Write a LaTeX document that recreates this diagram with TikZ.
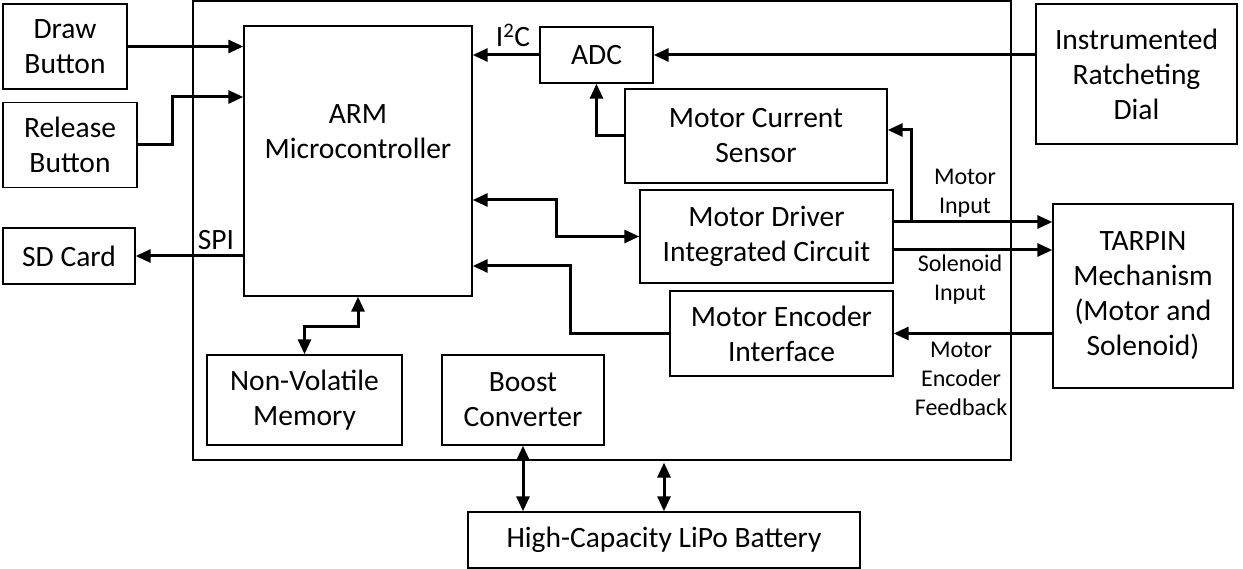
\documentclass[tikz,border=0pt]{standalone}
\usepackage{fontspec}
\setmainfont{Carlito}
\usetikzlibrary{arrows.meta}
\begin{document}
\begin{tikzpicture}[x=1pt,y=-1pt,
  box/.style={draw, line width=1.4pt, rectangle, inner sep=0pt, align=center,
     font=\fontsize{29.5}{35}\selectfont},
  txt/.style={inner sep=0pt, align=center, font=\fontsize{29.5}{35}\selectfont},
  small/.style={inner sep=0pt, align=center, font=\fontsize{24}{29}\selectfont},
  arr/.style={line width=3pt, -{Triangle[length=15pt,width=13pt]}},
  darr/.style={line width=3pt, {Triangle[length=15pt,width=13pt]}-{Triangle[length=15pt,width=13pt]}}]
\useasboundingbox (0,0) rectangle (1243,569);
% boxes
\node[box, line width=1.2pt, minimum width=818pt, minimum height=459pt] (board) at (602,230.5) {};
\node[box, minimum width=124pt, minimum height=85pt] (draw) at (65,46.5) {Draw\\Button};
\node[box, minimum width=134pt, minimum height=85pt] (rel) at (70,145) {Release\\Button};
\node[box, minimum width=132pt, minimum height=56pt] (sd) at (69,256) {SD Card};
\node[box, minimum width=228pt, minimum height=270pt] (arm) at (358,161) {};
\node[txt] (armtxt) at (358,132) {ARM\\Microcontroller};
\node[box, minimum width=113pt, minimum height=56pt] (adc) at (596.5,55) {ADC};
\node[box, minimum width=262pt, minimum height=94pt] (mcs) at (756,136) {Motor Current\\Sensor};
\node[box, minimum width=253pt, minimum height=93pt] (mdic) at (766.5,236.5) {Motor Driver\\Integrated Circuit};
\node[box, minimum width=223pt, minimum height=85pt] (mei) at (781.5,333.5) {Motor Encoder\\Interface};
\node[box, minimum width=180pt, minimum height=184pt] (tarpin) at (1143,296) {TARPIN\\Mechanism\\(Motor and\\Solenoid)};
\node[box, minimum width=201pt, minimum height=140pt] (dial) at (1136.5,74) {Instrumented\\Ratcheting\\Dial};
\node[box, minimum width=195pt, minimum height=90pt] (nvm) at (304.5,400) {Non-Volatile\\Memory};
\node[box, minimum width=162pt, minimum height=90pt] (boost) at (523,400) {Boost\\Converter};
\node[box, minimum width=392pt, minimum height=56pt] (batt) at (664,540) {High-Capacity LiPo Battery};
% labels
\node[txt] (spi) at (216,240) {SPI};
\node[txt] (i2c) at (513,35) {I\textsuperscript{2}C};
\node[small] (mi) at (965,193) {Motor\\Input};
\node[small] (si) at (960,280) {Solenoid\\Input};
\node[small] (mef) at (961,379) {Motor\\Encoder\\Feedback};
% connectors
\draw[arr] (draw.east) -- (arm.west |- draw.east);
\draw[arr] (rel.east) -| (172,97) -- (arm.west |- 0,97);
\draw[arr] (arm.west |- sd.east) -- (sd.east);
\draw[arr] (adc.west) -- (arm.east |- adc.west);
\draw[arr] (dial.west |- adc.east) -- (adc.east);
\draw[arr] (mcs.west) -| (adc.south);
\coordinate (br) at (911,222);
\draw[arr] (mdic.east |- br) -- (tarpin.west |- br);
\draw[arr] (br) |- (mcs.east |- 0,130);
\draw[arr] (mdic.east |- 0,250) -- (tarpin.west |- 0,250);
\draw[arr] (tarpin.west |- mei.east) -- (mei.east);
\draw[darr] (arm.east |- 0,200) -| (556,236.5) -- (mdic.west);
\draw[arr] (mei.west) -| (570,266) -- (arm.east |- 0,266);
\draw[darr] (arm.south) -- (358,327) -| (nvm.north);
\draw[darr] (boost.south) -- (batt.north -| boost.south);
\draw[darr] (board.south -| batt.north) ++(0,2) -- (batt.north);
\end{tikzpicture}
\end{document}
